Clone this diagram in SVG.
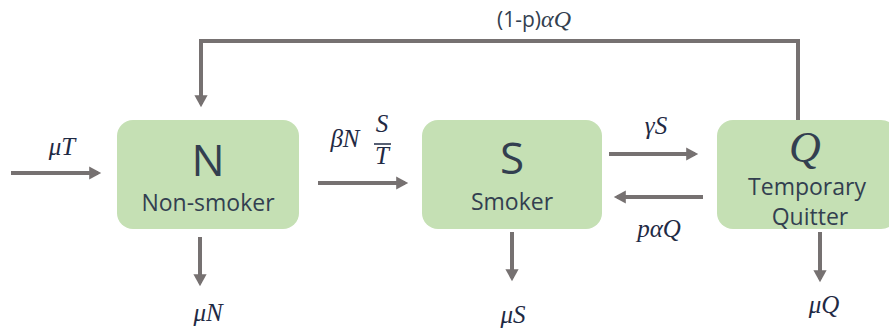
<svg xmlns="http://www.w3.org/2000/svg" width="889" height="332" viewBox="0 0 889 332">
<defs>
<marker id="ah" markerWidth="4" markerHeight="4" refX="2.2" refY="2" orient="auto" markerUnits="strokeWidth">
<path d="M0,0.35 L3,2 L0,3.65 Z" fill="#767171"/>
</marker>
<style>
.box{fill:#C5E0B4;}
.big{font-family:"Open Sans",sans-serif;font-size:44px;fill:#333F50;text-anchor:middle;}
.sub{font-family:"Open Sans",sans-serif;font-size:23px;fill:#333F50;text-anchor:middle;}
.m{font-family:"Liberation Serif","DejaVu Serif",serif;font-style:italic;font-size:25px;fill:#1F2A44;text-anchor:middle;}
.c{fill:none;stroke:#767171;stroke-width:4;marker-end:url(#ah);}
</style>
</defs>
<rect width="889" height="332" fill="#FFFFFF"/>
<g id="connectors">
<path class="c" d="M11,173 H98"/>
<path class="c" d="M318,183 H405"/>
<path class="c" d="M609,154 H695"/>
<path class="c" d="M703,197 H617"/>
<path class="c" d="M798,120 V41 H201 V104"/>
<path class="c" d="M200,237 V283"/>
<path class="c" d="M512,232 V278"/>
<path class="c" d="M820,232 V279"/>
</g>
<g id="labels">
<text class="m" x="62" y="155">μT</text>
<text class="m" x="345" y="147">βN</text>
<text class="m" x="382" y="132">S</text>
<line x1="374" y1="144" x2="391" y2="144" stroke="#1F2A44" stroke-width="1.5"/>
<text class="m" x="382" y="164">T</text>
<text class="m" x="656" y="134">γS</text>
<text class="m" x="659" y="237">pαQ</text>
<text x="534" y="27" font-family="Open Sans,sans-serif" font-size="21" fill="#333F50" text-anchor="middle">(1-p)<tspan font-family="Liberation Serif,serif" font-style="italic" font-size="24">αQ</tspan></text>
<text class="m" x="208" y="321">μN</text>
<text class="m" x="513" y="323">μS</text>
<text class="m" x="824" y="313">μQ</text>
</g>
<g id="node-N">
<rect class="box" x="117" y="120" width="182" height="109" rx="16"/>
<text class="big" x="208" y="176">N</text>
<text class="sub" x="208" y="211">Non-smoker</text>
</g>
<g id="node-S">
<rect class="box" x="422" y="120" width="180" height="109" rx="16"/>
<text class="big" x="512" y="174">S</text>
<text class="sub" x="512" y="210">Smoker</text>
</g>
<g id="node-Q">
<rect class="box" x="717" y="120" width="180" height="109" rx="16"/>
<text x="805" y="162" font-family="Liberation Serif,serif" font-style="italic" font-size="44" fill="#333F50" text-anchor="middle">Q</text>
<text class="sub" x="807" y="195" font-size="21">Temporary</text>
<text class="sub" x="810" y="225" font-size="21">Quitter</text>
</g>
</svg>
